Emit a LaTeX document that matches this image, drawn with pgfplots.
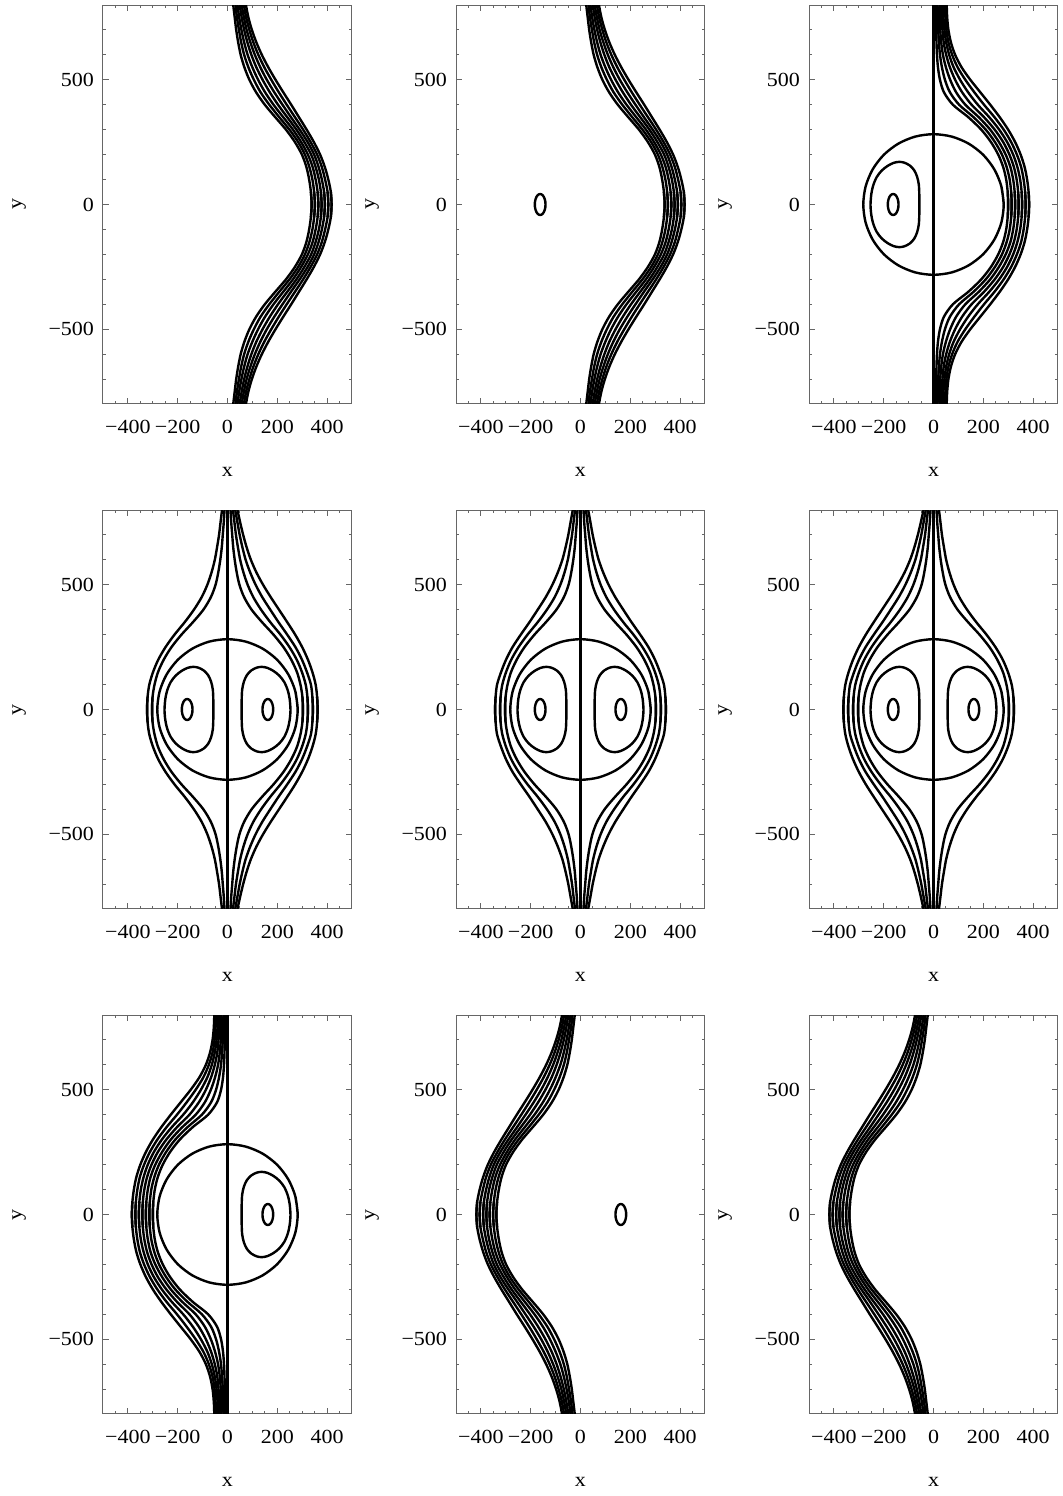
\documentclass[border=0pt]{standalone}
\usepackage{fontspec}
\setmainfont{Liberation Serif}[FakeStretch=1.1]
\usepackage{pgfplots}
\pgfplotsset{compat=1.18}
\usepackage{pgfplotstable}

% outer streamlines, upper half (row at -50 only to join the halves smoothly)
\pgfplotstableread{
y a1 a2 a3 a4 a5 a6 a7
-50 335 348 362 375 388 402 415
0 338 351 365 378 391 405 418
50 335 348 362 375 388 402 415
100 328 341 354 367 379 392 405
150 317 329 342 354 366 379 391
200 299 311 323 336 348 360 372
250 271 284 296 309 322 334 347
300 235 249 263 277 290 304 318
350 192 208 224 240 255 271 287
400 150 168 185 203 221 238 256
450 115 133 151 170 188 206 224
500 88 106 123 141 158 176 193
550 68 84 100 116 132 148 164
600 53 67 81 96 110 124 138
650 43 55 67 80 92 104 116
700 35 46 56 67 77 88 98
750 29 38 47 57 66 75 84
800 23 32 40 49 57 66 74
}\tabA

% streamlines around the separatrix, one side only
\pgfplotstableread{
y b1 b2 b3 b4 b5 b6 b7
-50 298 312 326 340 354 368 382
0 300 314 328 342 356 370 384
50 298 312 326 340 354 368 382
100 292 306 320 334 348 362 376
150 280 294 309 323 337 352 366
200 260 275 290 305 320 335 350
250 231 247 263 280 296 312 328
300 192 210 228 246 264 282 300
350 140 161 182 203 224 245 266
400 78 103 128 153 178 203 228
450 42 66 91 115 139 164 188
500 26 46 67 87 107 128 148
550 18 34 50 66 81 97 113
600 14 26 38 51 63 75 87
650 12 22 31 41 51 60 70
700 11 19 27 36 44 52 60
750 10 18 25 33 40 48 55
800 9 16 24 31 38 46 53
}\tabB

% middle row, streamlines on either side
\pgfplotstableread{
y c1 c2 c3 c4
-50 301 321 341 360
0 303 323 343 362
50 301 321 341 360
100 293 314 335 354
150 279 299 319 341
200 256 278 299 323
250 225 249 273 300
300 185 213 240 272
350 139 172 205 240
400 97 135 172 207
450 67 104 140 174
500 48 81 113 143
550 37 64 91 116
600 29 51 73 94
650 23 42 60 77
700 19 34 49 63
750 15 28 40 51
800 12 22 31 40
}\tabC

% separatrix circle
\pgfplotstableread{
x y
282 0
272.4 73.0
244.2 141.0
199.4 199.4
141.0 244.2
73.0 272.4
0 282
-73.0 272.4
-141.0 244.2
-199.4 199.4
-244.2 141.0
-272.4 73.0
-282 0
-272.4 -73.0
-244.2 -141.0
-199.4 -199.4
-141.0 -244.2
-73.0 -272.4
0 -282
73.0 -272.4
141.0 -244.2
199.4 -199.4
244.2 -141.0
272.4 -73.0
282 0
272.4 73.0
}\tabO

% D-shaped contour, right vortex
\pgfplotstableread{
x y
253 0
250 40
242 77
228 110
208 136
184 155
160 167
138 171
118 168
96 157
78 138
66 112
59 80
57 40
57 0
57 -40
59 -80
66 -112
78 -138
96 -157
118 -168
138 -171
160 -167
184 -155
208 -136
228 -110
242 -77
250 -40
253 0
250 40
}\tabD

% small oval round the right vortex centre
\pgfplotstableread{
x y
183.5 0
182.8 10.9
180.6 21
177.2 29.7
172.8 36.4
167.6 40.6
162 42
156.4 40.6
151.2 36.4
146.8 29.7
143.4 21
141.2 10.9
140.5 0
141.2 -10.9
143.4 -21
146.8 -29.7
151.2 -36.4
156.4 -40.6
162 -42
167.6 -40.6
172.8 -36.4
177.2 -29.7
180.6 -21
182.8 -10.9
183.5 0
182.8 10.9
}\tabE

\pgfplotsset{
  panel/.style={
    width=124.5pt, height=199.5pt, scale only axis,
    xmin=-500, xmax=500, ymin=-800, ymax=800,
    xtick={-400,-200,0,200,400}, xticklabels={−400,−200,0,200,400},
    ytick={-500,0,500}, yticklabels={−500,0,500},
    minor xtick={-500,-450,...,500}, minor ytick={-800,-700,...,800},
    tick align=inside, major tick length=3.2pt, minor tick length=1.6pt,
    axis line style={black!60, line width=0.5pt},
    tick style={black!60, line width=0.5pt},
    xlabel={x}, ylabel={y},
    xlabel style={at={(axis description cs:0.5,-0.17)}, anchor=center},
    ylabel style={at={(axis description cs:-0.337,0.5)}, anchor=center},
    xticklabel style={yshift=-4.5pt},
    yticklabel style={xshift=-1pt},
  },
  curve/.style={black, line width=1.2pt, smooth},
}

\newcommand{\sideR}[2]{%
  \addplot[curve] table[x=#2, y=y]{#1};
  \addplot[curve] table[x=#2, y expr=-\thisrow{y}]{#1};}
\newcommand{\sideL}[2]{%
  \addplot[curve] table[x expr=-\thisrow{#2}, y=y]{#1};
  \addplot[curve] table[x expr=-\thisrow{#2}, y expr=-\thisrow{y}]{#1};}
\newcommand{\core}{%
  \addplot[curve, sharp plot] coordinates {(0,-800) (0,800)};
  \addplot[curve] table{\tabO};}

\begin{document}
\begin{tikzpicture}
\useasboundingbox (-51.5pt,2.5pt) rectangle (479.5pt,-745.5pt);

% row 1
\begin{axis}[panel, at={(0pt,0pt)}, anchor=north west]
  \pgfplotsinvokeforeach{1,...,7}{\sideR{\tabA}{a#1}}
\end{axis}
\begin{axis}[panel, at={(176.5pt,0pt)}, anchor=north west]
  \pgfplotsinvokeforeach{1,...,7}{\sideR{\tabA}{a#1}}
  \addplot[curve] table[x expr=-\thisrow{x}, y=y]{\tabE};
\end{axis}
\begin{axis}[panel, at={(353pt,0pt)}, anchor=north west]
  \core
  \addplot[curve] table[x expr=-\thisrow{x}, y=y]{\tabD};
  \addplot[curve] table[x expr=-\thisrow{x}, y=y]{\tabE};
  \pgfplotsinvokeforeach{1,...,7}{\sideR{\tabB}{b#1}}
\end{axis}

% row 2
\begin{axis}[panel, at={(0pt,-252.5pt)}, anchor=north west]
  \core
  \addplot[curve] table{\tabD};
  \addplot[curve] table[x expr=-\thisrow{x}, y=y]{\tabD};
  \addplot[curve] table{\tabE};
  \addplot[curve] table[x expr=-\thisrow{x}, y=y]{\tabE};
  \pgfplotsinvokeforeach{1,...,4}{\sideR{\tabC}{c#1}}
  \pgfplotsinvokeforeach{1,2}{\sideL{\tabC}{c#1}}
\end{axis}
\begin{axis}[panel, at={(176.5pt,-252.5pt)}, anchor=north west]
  \core
  \addplot[curve] table{\tabD};
  \addplot[curve] table[x expr=-\thisrow{x}, y=y]{\tabD};
  \addplot[curve] table{\tabE};
  \addplot[curve] table[x expr=-\thisrow{x}, y=y]{\tabE};
  \pgfplotsinvokeforeach{1,...,3}{\sideR{\tabC}{c#1}}
  \pgfplotsinvokeforeach{1,...,3}{\sideL{\tabC}{c#1}}
\end{axis}
\begin{axis}[panel, at={(353pt,-252.5pt)}, anchor=north west]
  \core
  \addplot[curve] table{\tabD};
  \addplot[curve] table[x expr=-\thisrow{x}, y=y]{\tabD};
  \addplot[curve] table{\tabE};
  \addplot[curve] table[x expr=-\thisrow{x}, y=y]{\tabE};
  \pgfplotsinvokeforeach{1,2}{\sideR{\tabC}{c#1}}
  \pgfplotsinvokeforeach{1,...,4}{\sideL{\tabC}{c#1}}
\end{axis}

% row 3
\begin{axis}[panel, at={(0pt,-505pt)}, anchor=north west]
  \core
  \addplot[curve] table{\tabD};
  \addplot[curve] table{\tabE};
  \pgfplotsinvokeforeach{1,...,7}{\sideL{\tabB}{b#1}}
\end{axis}
\begin{axis}[panel, at={(176.5pt,-505pt)}, anchor=north west]
  \pgfplotsinvokeforeach{1,...,7}{\sideL{\tabA}{a#1}}
  \addplot[curve] table{\tabE};
\end{axis}
\begin{axis}[panel, at={(353pt,-505pt)}, anchor=north west]
  \pgfplotsinvokeforeach{1,...,7}{\sideL{\tabA}{a#1}}
\end{axis}
\end{tikzpicture}
\end{document}
